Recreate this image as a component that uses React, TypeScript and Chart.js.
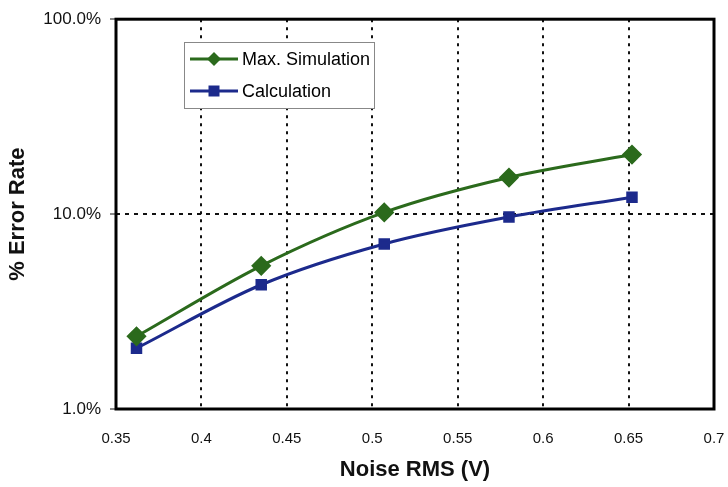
import React, { useEffect, useRef } from "react";
import { Chart, registerables } from "chart.js";

Chart.register(...registerables);

const xValues = [0.362, 0.435, 0.507, 0.58, 0.652];
const maxSimulation = [2.36, 5.43, 10.2, 15.4, 20.2];
const calculation = [2.05, 4.34, 7.03, 9.66, 12.2];
const xTicks = [0.35, 0.4, 0.45, 0.5, 0.55, 0.6, 0.65, 0.7];
const yTicks = [1, 10, 100];
const seriesNames = ["Max. Simulation", "Calculation"];
const GREEN = "#2b6a1c";
const BLUE = "#1c2a8c";
const FONT = "'Liberation Sans', Arial, sans-serif";

const frameAndLegend = {
  id: "frameAndLegend",
  afterDraw(chart: any) {
    const { ctx, chartArea } = chart;
    ctx.save();
    ctx.strokeStyle = "#000";
    ctx.lineWidth = 3;
    ctx.strokeRect(chartArea.left, chartArea.top, chartArea.right - chartArea.left, chartArea.bottom - chartArea.top);
    const bx = 184;
    const by = 42;
    const bw = 190;
    const bh = 66;
    ctx.fillStyle = "#fff";
    ctx.fillRect(bx, by, bw, bh);
    ctx.lineWidth = 1;
    ctx.strokeStyle = "#888";
    ctx.strokeRect(bx + 0.5, by + 0.5, bw, bh);
    const items = [
      { name: seriesNames[0], color: GREEN, style: "diamond", y: by + 17 },
      { name: seriesNames[1], color: BLUE, style: "square", y: by + 49 },
    ];
    ctx.font = `18px ${FONT}`;
    ctx.textBaseline = "middle";
    for (const it of items) {
      ctx.strokeStyle = it.color;
      ctx.fillStyle = it.color;
      ctx.lineWidth = 3;
      ctx.beginPath();
      ctx.moveTo(bx + 6, it.y);
      ctx.lineTo(bx + 54, it.y);
      ctx.stroke();
      const cx = bx + 30;
      ctx.beginPath();
      if (it.style === "diamond") {
        ctx.moveTo(cx, it.y - 7);
        ctx.lineTo(cx + 7, it.y);
        ctx.lineTo(cx, it.y + 7);
        ctx.lineTo(cx - 7, it.y);
        ctx.closePath();
      } else {
        ctx.rect(cx - 5.5, it.y - 5.5, 11, 11);
      }
      ctx.fill();
      ctx.fillStyle = "#000";
      ctx.fillText(it.name, bx + 58, it.y + 1);
    }
    ctx.restore();
  },
};

export default function App() {
  const ref = useRef<HTMLCanvasElement>(null);
  useEffect(() => {
    const chart = new Chart(ref.current!, {
      type: "line",
      data: {
        datasets: [
          {
            label: seriesNames[0],
            data: xValues.map((x, i) => ({ x, y: maxSimulation[i] })),
            borderColor: GREEN,
            backgroundColor: GREEN,
            borderWidth: 3,
            pointStyle: "rectRot",
            pointRadius: 8,
            cubicInterpolationMode: "monotone",
          },
          {
            label: seriesNames[1],
            data: xValues.map((x, i) => ({ x, y: calculation[i] })),
            borderColor: BLUE,
            backgroundColor: BLUE,
            borderWidth: 3,
            pointStyle: "rect",
            pointRadius: 6,
            cubicInterpolationMode: "monotone",
          },
        ],
      },
      options: {
        animation: false,
        responsive: false,
        layout: { padding: { top: 14, right: 0, left: 0, bottom: 0 } },
        plugins: { legend: { display: false }, tooltip: { enabled: false } },
        scales: {
          x: {
            type: "linear",
            min: 0.35,
            max: 0.7,
            afterBuildTicks: (s: any) => {
              s.ticks = xTicks.map((v) => ({ value: v }));
            },
            afterFit: (s: any) => {
              s.height = 78;
              s.paddingRight = 14;
            },
            ticks: {
              color: "#111",
              font: { family: FONT, size: 15 },
              padding: 21,
              maxRotation: 0,
              callback: (v: any) => String(Number(v)),
            },
            grid: {
              color: "#111",
              lineWidth: 2,
              drawTicks: false,
            },
            border: { display: false, dash: [3, 5] },
            title: {
              display: true,
              text: "Noise RMS (V)",
              color: "#111",
              font: { family: FONT, size: 22, weight: "bold" },
              padding: { top: 11 },
            },
          },
          y: {
            type: "logarithmic",
            min: 1,
            max: 100,
            afterBuildTicks: (s: any) => {
              s.ticks = yTicks.map((v) => ({ value: v }));
            },
            afterFit: (s: any) => {
              s.width = 116;
            },
            ticks: {
              color: "#111",
              font: { family: FONT, size: 17 },
              padding: 9,
              callback: (v: any) => Number(v).toFixed(1) + "%",
            },
            grid: {
              color: (c: any) => (c.tick && c.tick.value === 10 ? "#111" : "rgba(0,0,0,0)"),
              lineWidth: 2,
              tickColor: "#111",
              tickLength: 6,
              tickWidth: 1,
              tickBorderDash: [],
            },
            border: { display: false, dash: [4, 5] },
            title: {
              display: true,
              text: "% Error Rate",
              color: "#111",
              font: { family: FONT, size: 22, weight: "bold" },
              padding: { top: 5, bottom: 0 },
            },
          },
        },
      },
      plugins: [frameAndLegend],
    } as any);
    return () => chart.destroy();
  }, []);
  return (
    <div style={{ position: "absolute", left: 0, top: 0, width: 728, height: 487, background: "#fff" }}>
      <canvas ref={ref} width={728} height={487} />
    </div>
  );
}
